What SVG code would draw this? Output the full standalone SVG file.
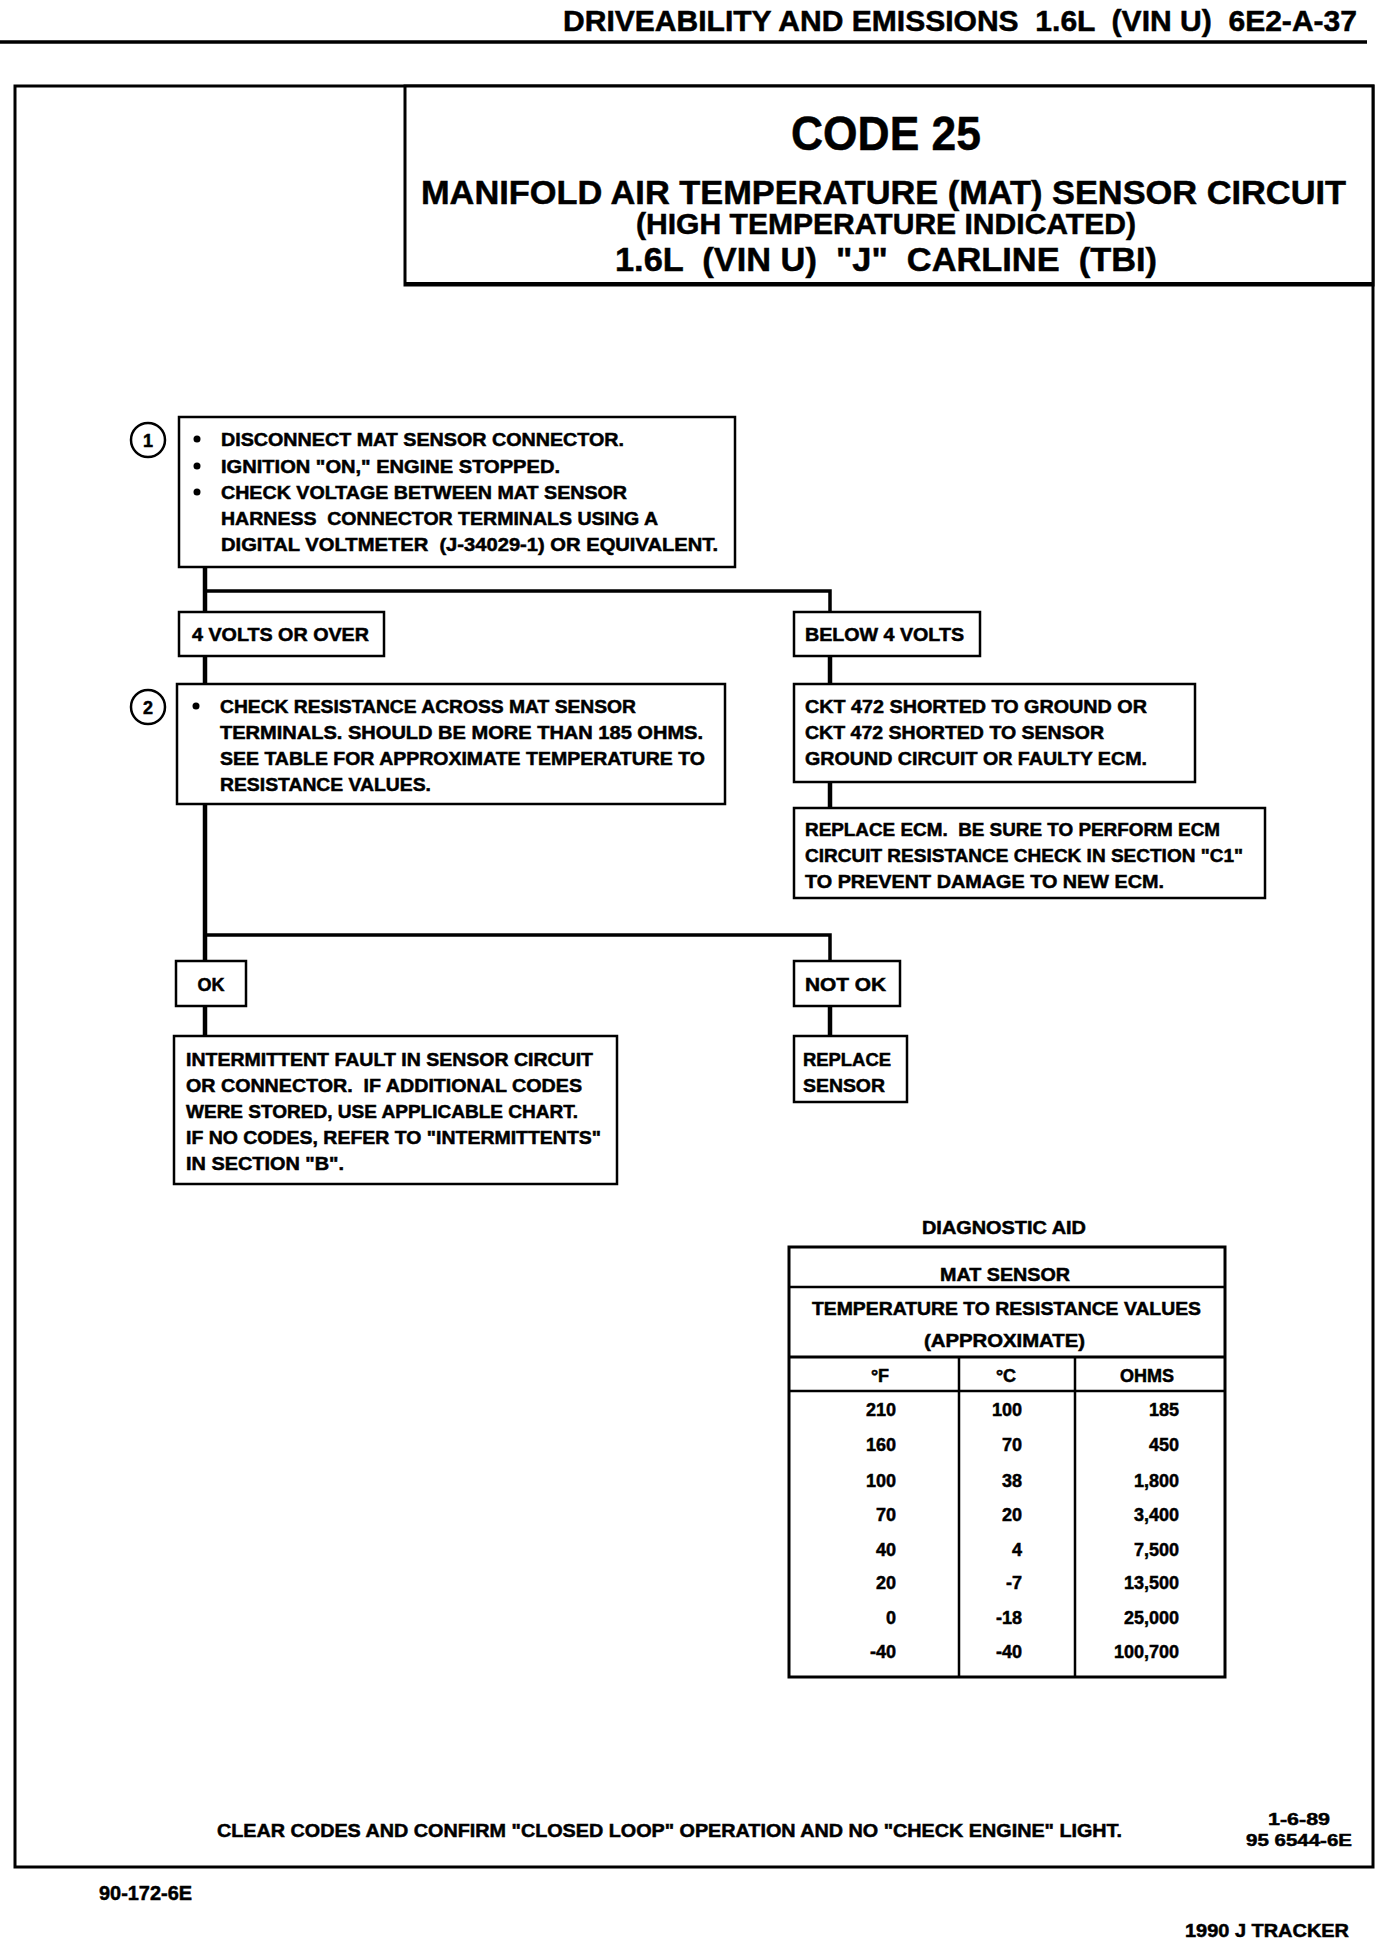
<svg xmlns="http://www.w3.org/2000/svg" width="1392" height="1940" viewBox="0 0 1392 1940">
<style>
text{font-family:"Liberation Sans",Arial,sans-serif;font-weight:bold;fill:#000;stroke:#000;stroke-width:0.5;white-space:pre}
.t{font-size:18px}
.m{text-anchor:middle}
.r{text-anchor:end}
.box{fill:#fff;stroke:#000;stroke-width:2.5}
.frame{fill:none;stroke:#000;stroke-width:3}
.conn{stroke:#000;stroke-width:4.5;fill:none}
.thin{stroke:#000;stroke-width:3.5;fill:none}
.tbl{stroke:#000;stroke-width:2.5;fill:none}
</style>
<rect width="1392" height="1940" fill="#fff"/>

<!-- header -->
<g id="header">
<text x="563" y="31" font-size="29" textLength="794" lengthAdjust="spacingAndGlyphs">DRIVEABILITY AND EMISSIONS  1.6L  (VIN U)  6E2-A-37</text>
<line x1="0" y1="42" x2="1367" y2="42" stroke="#000" stroke-width="3.5"/>
</g>

<!-- outer frame -->
<rect id="frame" class="frame" x="15" y="86" width="1358" height="1781"/>

<!-- title -->
<g id="title">
<rect class="box" x="405" y="86" width="968" height="199" style="stroke-width:3"/>
<line x1="405" y1="284" x2="1373" y2="284" stroke="#000" stroke-width="4"/>
<text x="791" y="150" font-size="48" textLength="190" lengthAdjust="spacingAndGlyphs">CODE 25</text>
<text x="421" y="204" font-size="34" textLength="925" lengthAdjust="spacingAndGlyphs">MANIFOLD AIR TEMPERATURE (MAT) SENSOR CIRCUIT</text>
<text x="636" y="234" font-size="29" textLength="500" lengthAdjust="spacingAndGlyphs">(HIGH TEMPERATURE INDICATED)</text>
<text x="615" y="271" font-size="34" textLength="542" lengthAdjust="spacingAndGlyphs">1.6L  (VIN U)  "J"  CARLINE  (TBI)</text>
</g>

<!-- connectors -->
<g id="connectors">
<line class="conn" x1="205" y1="567" x2="205" y2="612"/>
<polyline class="thin" points="205,591 830,591 830,612"/>
<line class="conn" x1="205" y1="656" x2="205" y2="684"/>
<line class="conn" x1="830" y1="656" x2="830" y2="684"/>
<line class="conn" x1="830" y1="782" x2="830" y2="808"/>
<line class="conn" x1="205" y1="804" x2="205" y2="961"/>
<polyline class="thin" points="205,935 830,935 830,961"/>
<line class="conn" x1="205" y1="1006" x2="205" y2="1036"/>
<line class="conn" x1="830" y1="1006" x2="830" y2="1036"/>
</g>

<!-- step 1 -->
<g id="step1">
<circle cx="148" cy="440" r="17" fill="#fff" stroke="#000" stroke-width="2.5"/>
<text class="t m" x="148" y="447">1</text>
<rect class="box" x="179" y="417" width="556" height="150"/>
<circle cx="197" cy="439" r="3.5"/>
<circle cx="197" cy="466" r="3.5"/>
<circle cx="197" cy="492" r="3.5"/>
<text class="t" x="221" y="446" textLength="403" lengthAdjust="spacingAndGlyphs">DISCONNECT MAT SENSOR CONNECTOR.</text>
<text class="t" x="221" y="473" textLength="339" lengthAdjust="spacingAndGlyphs">IGNITION "ON," ENGINE STOPPED.</text>
<text class="t" x="221" y="499" textLength="406" lengthAdjust="spacingAndGlyphs">CHECK VOLTAGE BETWEEN MAT SENSOR</text>
<text class="t" x="221" y="525" textLength="437" lengthAdjust="spacingAndGlyphs">HARNESS  CONNECTOR TERMINALS USING A</text>
<text class="t" x="221" y="551" textLength="497" lengthAdjust="spacingAndGlyphs">DIGITAL VOLTMETER  (J-34029-1) OR EQUIVALENT.</text>
</g>

<g id="over4">
<rect class="box" x="179" y="612" width="205" height="44"/>
<text class="t" x="192" y="641" textLength="177" lengthAdjust="spacingAndGlyphs">4 VOLTS OR OVER</text>
</g>

<g id="below4">
<rect class="box" x="794" y="612" width="186" height="44"/>
<text class="t" x="805" y="641" textLength="159" lengthAdjust="spacingAndGlyphs">BELOW 4 VOLTS</text>
</g>

<!-- step 2 -->
<g id="step2">
<circle cx="148" cy="707" r="17" fill="#fff" stroke="#000" stroke-width="2.5"/>
<text class="t m" x="148" y="714">2</text>
<rect class="box" x="177" y="684" width="548" height="120"/>
<circle cx="196" cy="706" r="3.5"/>
<text class="t" x="220" y="713" textLength="416" lengthAdjust="spacingAndGlyphs">CHECK RESISTANCE ACROSS MAT SENSOR</text>
<text class="t" x="220" y="739" textLength="483" lengthAdjust="spacingAndGlyphs">TERMINALS. SHOULD BE MORE THAN 185 OHMS.</text>
<text class="t" x="220" y="765" textLength="485" lengthAdjust="spacingAndGlyphs">SEE TABLE FOR APPROXIMATE TEMPERATURE TO</text>
<text class="t" x="220" y="791" textLength="211" lengthAdjust="spacingAndGlyphs">RESISTANCE VALUES.</text>
</g>

<g id="ckt">
<rect class="box" x="794" y="684" width="401" height="98"/>
<text class="t" x="805" y="713" textLength="342" lengthAdjust="spacingAndGlyphs">CKT 472 SHORTED TO GROUND OR</text>
<text class="t" x="805" y="739" textLength="299" lengthAdjust="spacingAndGlyphs">CKT 472 SHORTED TO SENSOR</text>
<text class="t" x="805" y="765" textLength="342" lengthAdjust="spacingAndGlyphs">GROUND CIRCUIT OR FAULTY ECM.</text>
</g>

<g id="replace-ecm">
<rect class="box" x="794" y="808" width="471" height="90"/>
<text class="t" x="805" y="836" textLength="415" lengthAdjust="spacingAndGlyphs">REPLACE ECM.  BE SURE TO PERFORM ECM</text>
<text class="t" x="805" y="862" textLength="438" lengthAdjust="spacingAndGlyphs">CIRCUIT RESISTANCE CHECK IN SECTION "C1"</text>
<text class="t" x="805" y="888" textLength="359" lengthAdjust="spacingAndGlyphs">TO PREVENT DAMAGE TO NEW ECM.</text>
</g>

<g id="ok">
<rect class="box" x="176" y="961" width="70" height="45"/>
<text class="t m" x="211" y="991">OK</text>
</g>

<g id="notok">
<rect class="box" x="794" y="961" width="106" height="45"/>
<text class="t" x="805" y="991" textLength="81" lengthAdjust="spacingAndGlyphs">NOT OK</text>
</g>

<g id="intermittent">
<rect class="box" x="174" y="1036" width="443" height="148"/>
<text class="t" x="186" y="1066" textLength="407" lengthAdjust="spacingAndGlyphs">INTERMITTENT FAULT IN SENSOR CIRCUIT</text>
<text class="t" x="186" y="1092" textLength="396" lengthAdjust="spacingAndGlyphs">OR CONNECTOR.  IF ADDITIONAL CODES</text>
<text class="t" x="186" y="1118" textLength="392" lengthAdjust="spacingAndGlyphs">WERE STORED, USE APPLICABLE CHART.</text>
<text class="t" x="186" y="1144" textLength="415" lengthAdjust="spacingAndGlyphs">IF NO CODES, REFER TO "INTERMITTENTS"</text>
<text class="t" x="186" y="1170" textLength="158" lengthAdjust="spacingAndGlyphs">IN SECTION "B".</text>
</g>

<g id="replace-sensor">
<rect class="box" x="794" y="1036" width="113" height="66"/>
<text class="t" x="803" y="1066" textLength="88" lengthAdjust="spacingAndGlyphs">REPLACE</text>
<text class="t" x="803" y="1092" textLength="82" lengthAdjust="spacingAndGlyphs">SENSOR</text>
</g>

<!-- diagnostic aid table -->
<g id="diagnostic-aid">
<text class="t" x="922" y="1234" textLength="164" lengthAdjust="spacingAndGlyphs">DIAGNOSTIC AID</text>
<rect class="tbl" x="789" y="1247" width="436" height="430" style="stroke-width:3"/>
<line class="tbl" x1="789" y1="1287" x2="1225" y2="1287"/>
<line class="tbl" x1="789" y1="1357" x2="1225" y2="1357" style="stroke-width:3"/>
<line class="tbl" x1="789" y1="1391" x2="1225" y2="1391"/>
<line class="tbl" x1="959" y1="1357" x2="959" y2="1677"/>
<line class="tbl" x1="1075" y1="1357" x2="1075" y2="1677"/>
<text class="t" x="940" y="1281" textLength="130" lengthAdjust="spacingAndGlyphs">MAT SENSOR</text>
<text class="t" x="812" y="1315" textLength="389" lengthAdjust="spacingAndGlyphs">TEMPERATURE TO RESISTANCE VALUES</text>
<text class="t" x="924" y="1347" textLength="161" lengthAdjust="spacingAndGlyphs">(APPROXIMATE)</text>
<text class="t m" x="880" y="1382">°F</text>
<text class="t m" x="1006" y="1382">°C</text>
<text class="t m" x="1147" y="1382">OHMS</text>
<g class="t">
<text class="t r" x="896" y="1416">210</text><text class="t r" x="1022" y="1416">100</text><text class="t r" x="1179" y="1416">185</text>
<text class="t r" x="896" y="1451">160</text><text class="t r" x="1022" y="1451">70</text><text class="t r" x="1179" y="1451">450</text>
<text class="t r" x="896" y="1487">100</text><text class="t r" x="1022" y="1487">38</text><text class="t r" x="1179" y="1487">1,800</text>
<text class="t r" x="896" y="1521">70</text><text class="t r" x="1022" y="1521">20</text><text class="t r" x="1179" y="1521">3,400</text>
<text class="t r" x="896" y="1556">40</text><text class="t r" x="1022" y="1556">4</text><text class="t r" x="1179" y="1556">7,500</text>
<text class="t r" x="896" y="1589">20</text><text class="t r" x="1022" y="1589">-7</text><text class="t r" x="1179" y="1589">13,500</text>
<text class="t r" x="896" y="1624">0</text><text class="t r" x="1022" y="1624">-18</text><text class="t r" x="1179" y="1624">25,000</text>
<text class="t r" x="896" y="1658">-40</text><text class="t r" x="1022" y="1658">-40</text><text class="t r" x="1179" y="1658">100,700</text>
</g>
</g>

<!-- footer -->
<g id="footer">
<text class="t" x="217" y="1837" textLength="905" lengthAdjust="spacingAndGlyphs">CLEAR CODES AND CONFIRM "CLOSED LOOP" OPERATION AND NO "CHECK ENGINE" LIGHT.</text>
<text x="1268" y="1825" font-size="17" textLength="62" lengthAdjust="spacingAndGlyphs">1-6-89</text>
<text x="1246" y="1846" font-size="17" textLength="106" lengthAdjust="spacingAndGlyphs">95 6544-6E</text>
<text x="99" y="1900" font-size="20" textLength="93" lengthAdjust="spacingAndGlyphs">90-172-6E</text>
<text x="1185" y="1937" font-size="18" textLength="164" lengthAdjust="spacingAndGlyphs">1990 J TRACKER</text>
</g>
</svg>
